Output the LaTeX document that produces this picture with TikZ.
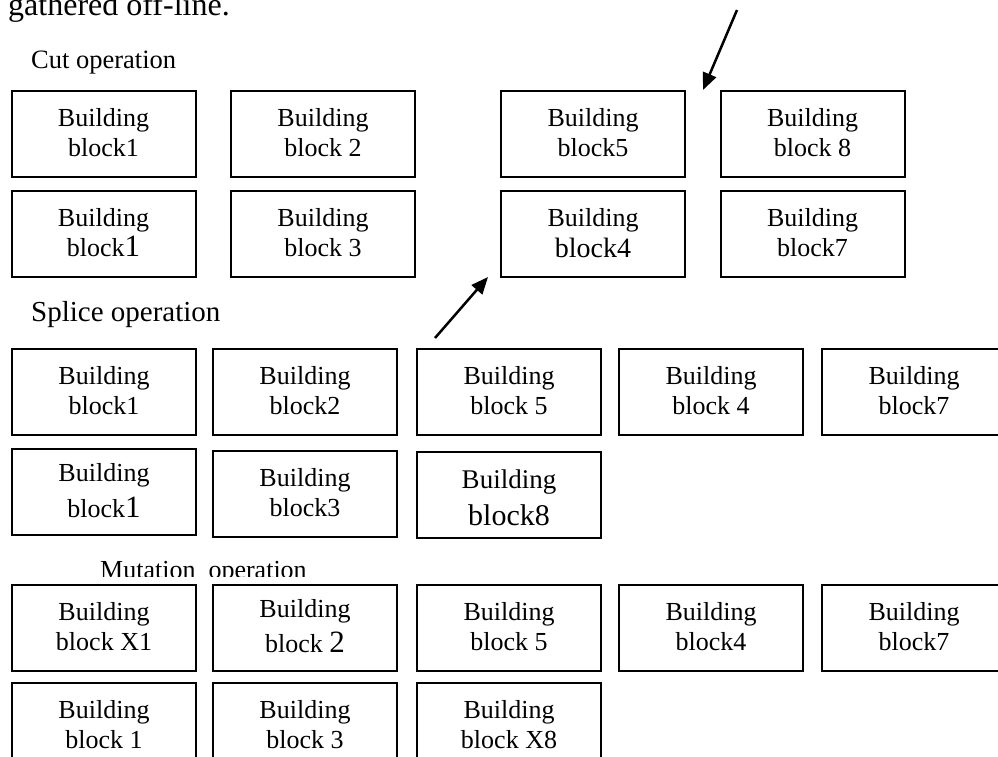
\documentclass[tikz,border=0pt]{standalone}
\usepackage{fontspec}
\setmainfont{Liberation Serif}
\usetikzlibrary{arrows.meta}
\tikzset{
  bb/.style={draw, line width=2pt, minimum width=184pt, minimum height=86pt,
    inner sep=0pt, align=center, font=\fontsize{26}{30}\selectfont,
    execute at end node={\rule[-3pt]{0pt}{3pt}}},
  nopad/.style={execute at end node={}},
  lbl/.style={anchor=base west, inner sep=0pt},
  arr/.style={line width=2.5pt, -{Triangle[length=17pt,width=14pt]}},
}
\newcommand\bigdig[1]{{\fontsize{31}{34}\selectfont #1}}
\begin{document}
\begin{tikzpicture}[x=1pt,y=-1pt]
\useasboundingbox (0,0) rectangle (998,756);
\clip (0,0) rectangle (998,756);

% headings
\node[lbl, font=\fontsize{32}{36}\selectfont] (intro) at (8,15) {gathered off-line.};
\node[lbl, font=\fontsize{26.5}{30}\selectfont] (cut) at (31,68) {Cut operation};
\node[lbl, font=\fontsize{29}{33}\selectfont] (splice) at (31,321) {Splice operation};
\begin{scope}
  \clip (90,540) rectangle (330,576);
  \node[lbl, font=\fontsize{26}{30}\selectfont] (mut) at (100,578) {Mutation\ \ operation};
\end{scope}

% Cut operation
\node[bb] (A1) at (103.5,133.5) {Building\\block1};
\node[bb] (A2) at (323,133.5) {Building\\block 2};
\node[bb] (A3) at (593,133.5) {Building\\block5};
\node[bb] (A4) at (812.5,133.5) {Building\\block 8};

\node[bb] (B1) at (103.5,234) {Building\\block\bigdig{1}};
\node[bb] (B2) at (323,234) {Building\\block 3};
\node[bb, execute at end node={\rule[-1pt]{0pt}{1pt}}] (B3) at (593,234) {Building\\[1pt]{\fontsize{28}{31}\selectfont block4}};
\node[bb] (B4) at (812.5,234) {Building\\block7};

% Splice operation
\node[bb] (C1) at (104,391.5) {Building\\block1};
\node[bb] (C2) at (305,391.5) {Building\\block2};
\node[bb] (C3) at (509,391.5) {Building\\block 5};
\node[bb] (C4) at (711,391.5) {Building\\block 4};
\node[bb] (C5) at (914,391.5) {Building\\block7};

\node[bb, nopad] (D1) at (104,491.5) {Building\\[6pt]block\bigdig{1}};
\node[bb] (D2) at (305,493.5) {Building\\block3};
\node[bb, nopad, font=\fontsize{27}{30}\selectfont] (D3) at (509,494.5) {\rule{0pt}{27pt}Building\\[7pt]{\fontsize{30}{34}\selectfont block8}};

% Mutation operation
\node[bb] (E1) at (104,627.5) {Building\\block X1};
\node[bb, nopad] (E2) at (305,627.5) {Building\\[5pt]block \bigdig{2}};
\node[bb] (E3) at (509,627.5) {Building\\block 5};
\node[bb] (E4) at (711,627.5) {Building\\block4};
\node[bb] (E5) at (914,627.5) {Building\\block7};

\node[bb] (F1) at (104,725.5) {Building\\block 1};
\node[bb] (F2) at (305,725.5) {Building\\block 3};
\node[bb] (F3) at (509,725.5) {Building\\block X8};

% arrows
\coordinate (p1s) at (737,10);
\coordinate (p1e) at (703,90);
\draw[arr] (p1s) -- (p1e);
\coordinate (p2s) at (435,338);
\coordinate (p2e) at (488,277);
\draw[arr] (p2s) -- (p2e);
\end{tikzpicture}
\end{document}
